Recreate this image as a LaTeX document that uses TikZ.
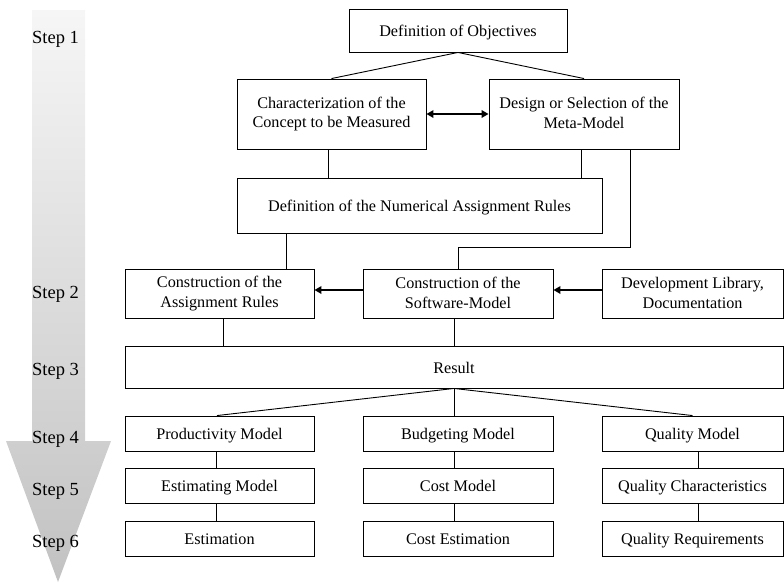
\documentclass[tikz,border=0pt]{standalone}
\usepackage{fontspec}
\setmainfont{Liberation Serif}
\usetikzlibrary{arrows.meta}
\newcommand\boxstrut{\rule[-2pt]{0pt}{16.5pt}}
\begin{document}
\begin{tikzpicture}[x=1pt,y=-1pt,
  box/.style={draw=black, line width=0.9pt, fill=white, inner sep=0pt, align=center,
    font=\fontsize{16.2}{19.8}\selectfont,
    execute at begin node=\boxstrut, execute at end node=\boxstrut},
  link/.style={draw=black, line width=0.9pt},
  push/.style={draw=black, line width=2pt, -{Triangle[length=7pt,width=7.5pt]}},
  steplabel/.style={anchor=base west, inner sep=0pt, font=\fontsize{18.5}{20}\selectfont}]
\useasboundingbox (0,0) rectangle (784,582);

% phase arrow on the left
\shade[top color=gray!7, bottom color=gray!48]
  (32,10) -- (85,10) -- (85,441) -- (111,441) -- (58,582) -- (6,441) -- (32,441) -- cycle;
\node[steplabel] (s1) at (32,43.5) {Step 1};
\node[steplabel] (s2) at (32,298) {Step 2};
\node[steplabel] (s3) at (32,375.5) {Step 3};
\node[steplabel] (s4) at (32,443) {Step 4};
\node[steplabel] (s5) at (32,495) {Step 5};
\node[steplabel] (s6) at (32,547) {Step 6};

% step 1
\node[box, minimum width=218pt, minimum height=43pt] (def) at (458,30.5) {Definition of Objectives};
\node[box, minimum width=189pt, minimum height=70pt] (char) at (331.5,114) {Characterization of the\\Concept to be Measured};
\node[box, minimum width=190pt, minimum height=70pt] (design) at (584,114) {Design or Selection of the\\Meta-Model};
\node[box, minimum width=365pt, minimum height=55pt] (rules) at (419.5,205.5) {Definition of the Numerical Assignment Rules};

% step 2
\node[box, minimum width=189pt, minimum height=49pt] (car) at (219.5,293.5) {Construction of the\\Assignment Rules};
\node[box, minimum width=190pt, minimum height=49pt] (csm) at (458,293.5) {Construction of the\\Software-Model};
\node[box, minimum width=181pt, minimum height=49pt] (dld) at (692.5,293.5) {Development Library,\\Documentation};

% step 3
\node[box, minimum width=658pt, minimum height=42pt] (result) at (454,367) {Result};

% steps 4 to 6
\node[box, minimum width=189pt, minimum height=35pt] (prod) at (219.5,433.5) {Productivity Model};
\node[box, minimum width=190pt, minimum height=35pt] (budg) at (458,433.5) {Budgeting Model};
\node[box, minimum width=181pt, minimum height=35pt] (qual) at (692.5,433.5) {Quality Model};
\node[box, minimum width=189pt, minimum height=35pt] (estm) at (219.5,485.5) {Estimating Model};
\node[box, minimum width=190pt, minimum height=35pt] (cost) at (458,485.5) {Cost Model};
\node[box, minimum width=181pt, minimum height=35pt] (qchar) at (692.5,485.5) {Quality Characteristics};
\node[box, minimum width=189pt, minimum height=35pt] (est) at (219.5,538.5) {Estimation};
\node[box, minimum width=190pt, minimum height=35pt] (cest) at (458,538.5) {Cost Estimation};
\node[box, minimum width=181pt, minimum height=35pt] (qreq) at (692.5,538.5) {Quality Requirements};

% connectors
\draw[link] (def.south) -- (char.north);
\draw[link] (def.south) -- (design.north);
\draw[draw=black, line width=2pt, {Triangle[length=7pt,width=7.5pt]}-{Triangle[length=7pt,width=7.5pt]}] (char.east) -- (design.west);
\draw[link] ([xshift=-3.5pt]char.south) -- ([xshift=-3.5pt]char.south |- rules.north);
\draw[link] ([xshift=-3pt]design.south) -- ([xshift=-3pt]design.south |- rules.north);
\draw[link] ([xshift=46pt]design.south) |- ([yshift=21pt]csm.north) -- (csm.north);
\draw[link] ([xshift=66.5pt]car.north) -- ([xshift=66.5pt]car.north |- rules.south);
\draw[push] ([yshift=3.5pt]csm.west) -- ([yshift=3.5pt]car.east);
\draw[push] ([yshift=3.5pt]dld.west) -- ([yshift=3.5pt]csm.east);
\draw[link] ([xshift=3.5pt]car.south) -- ([xshift=3.5pt]car.south |- result.north);
\draw[link] ([xshift=-4pt]csm.south) -- ([xshift=-4pt]csm.south |- result.north);
\draw[link] (result.south) -- ([xshift=-2.5pt]prod.north);
\draw[link] (result.south) -- (result.south |- budg.north);
\draw[link] (result.south) -- (qual.north);
\draw[link] ([xshift=-3pt]prod.south) -- ([xshift=-3pt]estm.north);
\draw[link] ([xshift=-3pt]estm.south) -- ([xshift=-3pt]est.north);
\draw[link] ([xshift=-4pt]budg.south) -- ([xshift=-4pt]cost.north);
\draw[link] ([xshift=-4pt]cost.south) -- ([xshift=-4pt]cest.north);
\draw[link] ([xshift=6pt]qual.south) -- ([xshift=6pt]qchar.north);
\draw[link] ([xshift=6pt]qchar.south) -- ([xshift=6pt]qreq.north);
\end{tikzpicture}
\end{document}
